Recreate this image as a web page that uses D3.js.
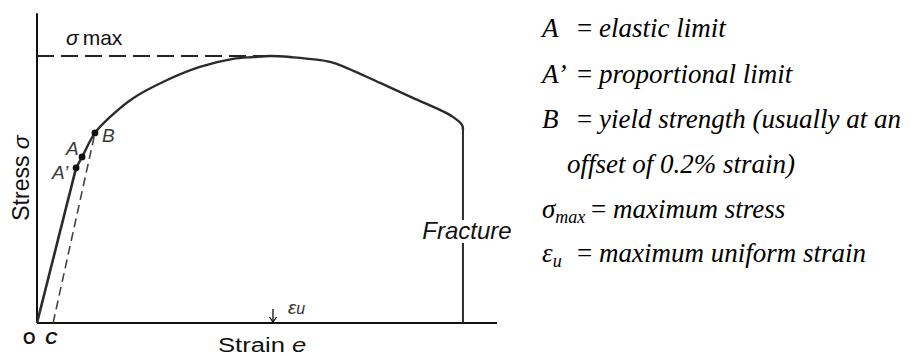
<!DOCTYPE html>
<html>
<head>
<meta charset="utf-8">
<script src="https://cdn.jsdelivr.net/npm/d3@7/dist/d3.min.js"></script>
<style>
  html, body { margin: 0; padding: 0; background: #fff; }
  svg { display: block; }
</style>
</head>
<body>
<svg id="chart" width="915" height="356"></svg>
<script>
// Engineering stress–strain curve (arbitrary units: strain 0–100, stress 0–100 = σmax)
const elasticStrain = [0, 8.5];
const elasticStress = [0, 58.1];

const plasticStrain = [8.5, 9.8, 12.6, 15.9, 20.9, 28.3, 35.4, 42.6, 47.0, 50.7, 55.0, 63.7, 67.4, 74.6, 81.7, 87.6, 90.4, 92.4, 92.6];
const plasticStress = [58.1, 62.2, 71.2, 77.2, 84.2, 91.0, 95.9, 98.9, 99.6, 100, 99.6, 97.8, 95.5, 89.9, 84.3, 79.8, 77.2, 74.2, 72.3];

const fractureStrain = 92.6;
const fractureStress = 72.3;

// Marked points on the curve
const pointNames = ["A\u2019", "A", "B"];
const pointStrain = [8.5, 9.8, 12.6];
const pointStress = [58.1, 62.2, 71.2];

// 0.2% offset line from C to B
const offsetStrain = [3.5, 12.6];
const offsetStress = [0, 71.2];

const sigmaMax = 100;
const sigmaMaxStrain = 50.2;
const uniformStrain = 51.3;
const stressAxisTop = 116;

// Legend lines
const legendSymbols = ["A", "A\u2019", "B", "", "\u03c3", "\u03b5"];
const legendSubs = ["", "", "", "", "max", "u"];
const legendTexts = ["elastic limit", "proportional limit", "yield strength (usually at an", "offset of 0.2% strain)", "maximum stress", "maximum uniform strain"];

const svg = d3.select("#chart");

const x = d3.scaleLinear().domain([0, 100]).range([37, 497]);
const y = d3.scaleLinear().domain([0, 100]).range([323, 56]);

const curveColor = "#2b2b2b";
const sans = "Liberation Sans, Arial, sans-serif";

// axes (plain lines, no ticks)
svg.append("line")
  .attr("x1", x(0)).attr("x2", x(0))
  .attr("y1", y(0)).attr("y2", y(stressAxisTop))
  .attr("stroke", "#111").attr("stroke-width", 2);
svg.append("line")
  .attr("x1", x(0)).attr("x2", x(100))
  .attr("y1", y(0)).attr("y2", y(0))
  .attr("stroke", "#111").attr("stroke-width", 2);

// σmax dashed reference
svg.append("line")
  .attr("x1", x(0)).attr("x2", x(sigmaMaxStrain))
  .attr("y1", y(sigmaMax)).attr("y2", y(sigmaMax))
  .attr("stroke", "#222").attr("stroke-width", 2)
  .attr("stroke-dasharray", "17,7");

// offset line
svg.append("path")
  .datum(d3.zip(offsetStrain, offsetStress))
  .attr("d", d3.line().x(d => x(d[0])).y(d => y(d[1])))
  .attr("fill", "none").attr("stroke", "#444")
  .attr("stroke-width", 1.6).attr("stroke-dasharray", "9,5");

// elastic line
svg.append("path")
  .datum(d3.zip(elasticStrain, elasticStress))
  .attr("d", d3.line().x(d => x(d[0])).y(d => y(d[1])))
  .attr("fill", "none").attr("stroke", curveColor).attr("stroke-width", 2.6);

// plastic region
svg.append("path")
  .datum(d3.zip(plasticStrain, plasticStress))
  .attr("d", d3.line().x(d => x(d[0])).y(d => y(d[1])).curve(d3.curveCatmullRom.alpha(0.5)))
  .attr("fill", "none").attr("stroke", curveColor).attr("stroke-width", 2.4);

// fracture drop
svg.append("line")
  .attr("x1", x(fractureStrain)).attr("x2", x(fractureStrain))
  .attr("y1", y(fractureStress)).attr("y2", y(0))
  .attr("stroke", curveColor).attr("stroke-width", 2);

// marked points
svg.selectAll("circle.pt")
  .data(d3.range(pointNames.length))
  .join("circle")
  .attr("class", "pt")
  .attr("cx", i => x(pointStrain[i]))
  .attr("cy", i => y(pointStress[i]))
  .attr("r", 3.4)
  .attr("fill", "#111");

const ptLabelOffsets = [[-24, 11], [-16, -2], [7, 9]];
svg.selectAll("text.pt")
  .data(d3.range(pointNames.length))
  .join("text")
  .attr("class", "pt")
  .attr("x", i => x(pointStrain[i]) + ptLabelOffsets[i][0])
  .attr("y", i => y(pointStress[i]) + ptLabelOffsets[i][1])
  .attr("font-family", sans)
  .attr("font-style", "italic")
  .attr("font-size", 19)
  .attr("fill", "#3a3a3a")
  .text(i => pointNames[i]);

// σmax label
const sm = svg.append("text")
  .attr("x", 66).attr("y", 45)
  .attr("font-family", sans)
  .attr("font-size", 21).attr("fill", "#111");
sm.append("tspan").attr("font-style", "italic").text("\u03c3");
sm.append("tspan").attr("dx", 4).text("max");

// uniform strain marker
const ax = x(uniformStrain);
svg.append("line")
  .attr("x1", ax).attr("x2", ax)
  .attr("y1", y(0) - 14).attr("y2", y(0) - 1)
  .attr("stroke", "#111").attr("stroke-width", 1.3);
svg.append("path")
  .attr("d", `M${ax - 3.5},${y(0) - 6}L${ax},${y(0) - 1}L${ax + 3.5},${y(0) - 6}`)
  .attr("fill", "none").attr("stroke", "#111").attr("stroke-width", 1.3);
const eu = svg.append("text")
  .attr("x", ax + 15).attr("y", y(0) - 9)
  .attr("font-family", sans)
  .attr("font-style", "italic").attr("font-size", 19).attr("fill", "#333");
eu.append("tspan").text("\u03b5");
eu.append("tspan").attr("font-size", 16).text("u");

// Fracture label with white backing over the drop line
const fr = svg.append("text")
  .attr("x", x(fractureStrain) + 4).attr("y", 239)
  .attr("text-anchor", "middle")
  .attr("font-family", sans)
  .attr("font-style", "italic").attr("font-size", 24).attr("fill", "#111")
  .text("Fracture");
const bb = fr.node().getBBox();
svg.insert("rect", "text")
  .attr("x", bb.x - 2).attr("y", bb.y + 3)
  .attr("width", bb.width + 4).attr("height", bb.height - 4)
  .attr("fill", "#fff");

// axis titles
const st = svg.append("text")
  .attr("transform", "translate(29,178) rotate(-90)")
  .attr("text-anchor", "middle")
  .attr("font-family", sans)
  .attr("font-size", 23).attr("fill", "#111");
st.append("tspan").text("Stress ");
st.append("tspan").attr("font-style", "italic").text("\u03c3");

const sx = svg.append("text")
  .attr("transform", "translate(218,352) scale(1.22,1)")
  .attr("font-family", sans)
  .attr("font-size", 21).attr("fill", "#111");
sx.append("tspan").text("Strain ");
sx.append("tspan").attr("font-style", "italic").text("e");

// origin and offset labels
svg.append("text")
  .attr("x", 23).attr("y", 344)
  .attr("font-family", sans)
  .attr("font-weight", "bold").attr("font-size", 16).attr("fill", "#111")
  .text("O");
svg.append("text")
  .attr("x", x(offsetStrain[0]) - 8).attr("y", 344)
  .attr("font-family", sans)
  .attr("font-weight", "bold").attr("font-style", "italic")
  .attr("font-size", 17).attr("fill", "#111")
  .text("C");

// legend
const legendBase = [37, 83, 128, 173, 218, 262];
const legend = svg.append("g")
  .attr("font-family", "Liberation Serif, Times New Roman, serif")
  .attr("font-style", "italic").attr("font-size", 27).attr("fill", "#000");

legendTexts.forEach((t, i) => {
  const row = legend.append("text").attr("y", legendBase[i]);
  if (legendSymbols[i] === "") {
    row.attr("x", 567).text(t);
    return;
  }
  row.append("tspan").attr("x", 542).text(legendSymbols[i]);
  if (legendSubs[i]) {
    row.append("tspan").attr("font-size", 18).attr("dy", 5).text(legendSubs[i]);
    row.append("tspan").attr("dy", -5).text("\u00a0");
  }
  row.append("tspan").attr("x", i === 4 ? 591 : 577).attr("font-style", "normal").text("=");
  row.append("tspan").text("\u00a0" + t);
});
</script>
</body>
</html>
